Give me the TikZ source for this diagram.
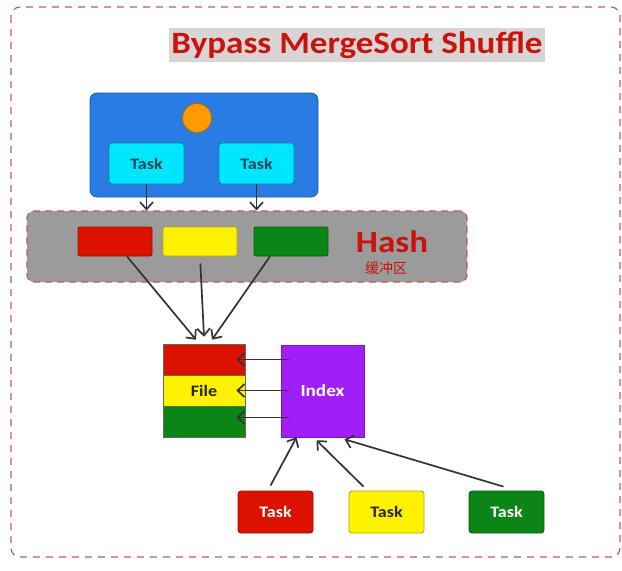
\documentclass[tikz,border=0pt]{standalone}
\usepackage{fontspec}
\setmainfont{Carlito}
\newfontfamily\widefont[FakeStretch=1.13]{Carlito}
\newfontfamily\cjk{Noto Sans CJK SC}
\usetikzlibrary{arrows.meta, positioning}

\definecolor{framered}{HTML}{C25A5A}
\definecolor{titlered}{HTML}{C8140C}
\definecolor{titlebg}{HTML}{DAD5D5}
\definecolor{stageblue}{HTML}{2A7BE4}
\definecolor{dotorange}{HTML}{FF9A00}
\definecolor{taskcyan}{HTML}{00E6FF}
\definecolor{tasktext}{HTML}{0D4552}
\definecolor{hashgray}{HTML}{9B9B9B}
\definecolor{partred}{HTML}{DD1100}
\definecolor{partyellow}{HTML}{FFF200}
\definecolor{partgreen}{HTML}{0A8516}
\definecolor{indexpurple}{HTML}{A11FF7}
\definecolor{linkgray}{HTML}{333333}

\begin{document}
\begin{tikzpicture}[x=1pt, y=-1pt,
    box/.style={draw, rounded corners=3pt, line width=0.8pt, inner sep=0pt,
        minimum width=75pt, minimum height=41pt, font=\widefont\fontsize{16}{18}\selectfont\bfseries},
    part/.style={draw, rounded corners=2pt, line width=0.8pt, minimum width=74pt, minimum height=29pt},
    strip/.style={draw=black!60, line width=0.6pt, minimum width=82pt, minimum height=31pt, inner sep=0pt,
        font=\widefont\fontsize{16}{18}\selectfont\bfseries},
    link/.style={-{Straight Barb[length=7pt,width=13pt]}, line width=1.7pt, draw=linkgray}]

    \useasboundingbox (0,0) rectangle (622,571);

    % Outer frame and title
    \draw[framered, line width=1.2pt, dash pattern=on 7pt off 6pt, rounded corners=9pt] (11,7) rectangle (620,557);
    \node[fill=titlebg, text=titlered, inner xsep=2pt, inner ysep=0pt, minimum height=34pt,
        font=\widefont\fontsize{31}{34}\selectfont\bfseries] (title) at (357,45) {Bypass MergeSort Shuffle};

    % Map side
    \node[draw=stageblue!70!black, fill=stageblue, rounded corners=7pt, line width=0.8pt,
        minimum width=228pt, minimum height=104pt] (stage) at (204,145) {};
    \node[circle, fill=dotorange, draw=dotorange!70!black, line width=0.8pt, minimum size=29pt, inner sep=0pt] (dot) at (197,118) {};
    \node[box, fill=taskcyan, draw=taskcyan!60!black, text=tasktext] (t1) at (146.5,163.5) {Task};
    \node[box, fill=taskcyan, draw=taskcyan!60!black, text=tasktext] (t2) at (256.5,163.5) {Task};

    % Hash buffer
    \node[draw=framered, fill=hashgray, dash pattern=on 7pt off 5pt, line width=1.2pt, rounded corners=7pt,
        minimum width=440pt, minimum height=71pt] (hash) at (247,246.5) {};
    \node[part, fill=partred, draw=partred!70!black] (hr) at (115,241.5) {};
    \node[part, fill=partyellow, draw=partyellow!70!black] (hy) at (200,241.5) {};
    \node[part, fill=partgreen, draw=partgreen!70!black] (hg) at (291,241.5) {};
    \node[text=titlered, font=\widefont\fontsize{31}{34}\selectfont\bfseries] (hashlabel) at (392,242) {Hash};
    \node[text=titlered, font=\cjk\fontsize{14}{16}\selectfont] (buffer) at (386,268) {缓冲区};

    \draw[link] (t1) -- (t1 |- hash.north);
    \draw[link] (t2) -- (t2 |- hash.north);

    % File and index
    \node[strip, fill=partred] (fr) at (204,359.5) {};
    \node[strip, fill=partyellow, text=black!85] (fy) at (204,390.5) {File};
    \node[strip, fill=partgreen] (fg) at (204,421.5) {};
    \node[draw=indexpurple!75!black, fill=indexpurple, text=white, line width=0.6pt,
        minimum width=83pt, minimum height=92pt, font=\widefont\fontsize{17}{19}\selectfont\bfseries] (index) at (322.5,391) {Index};

    \draw[link] ([xshift=12pt]hr.south) -- ([xshift=-8pt,yshift=4pt]fr.north);
    \draw[link, shorten <=7pt] (hy.south) -- ([yshift=7pt]fr.north);
    \draw[link] ([xshift=-21pt]hg.south) -- ([xshift=8pt,yshift=4pt]fr.north);

    \draw[link] ([xshift=8pt]index.west |- fr.center) -- ([xshift=-9pt]fr.east);
    \draw[link] ([xshift=8pt]index.west |- fy.center) -- ([xshift=-9pt]fy.east);
    \draw[link] ([xshift=8pt,yshift=4pt]index.west |- fg.center) -- ([xshift=-9pt,yshift=4pt]fg.east);

    % Reduce side tasks
    \foreach \name/\x/\col/\txt in {b1/275.5/partred/white, b2/386.5/partyellow/black!85, b3/506.5/partgreen/white} {
        \node[box, fill=\col, draw=\col!70!black, text=\txt, minimum height=42pt] (\name) at (\x,512) {Task};
    }
    \draw[link] ([xshift=-5pt,yshift=5pt]b1.north) -- ([xshift=-26pt]index.south);
    \draw[link] ([xshift=-23pt,yshift=4pt]b2.north) -- ([xshift=-6pt,yshift=-3pt]index.south);
    \draw[link] ([xshift=-3pt,yshift=4pt]b3.north) -- ([xshift=22pt,yshift=-2pt]index.south);

\end{tikzpicture}
\end{document}
